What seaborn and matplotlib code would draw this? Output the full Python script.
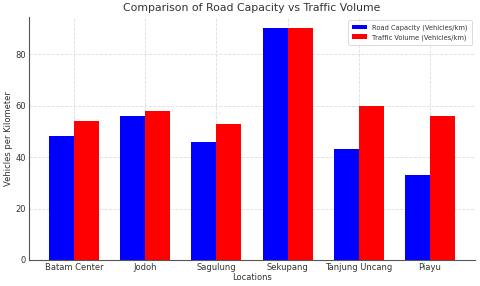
import matplotlib
matplotlib.use("Agg")
import matplotlib.pyplot as plt
import seaborn as sns
import pandas as pd

locations = ["Batam Center", "Jodoh", "Sagulung", "Sekupang", "Tanjung Uncang", "Piayu"]
road_capacity = [48, 56, 46, 90, 43, 33]
traffic_volume = [54, 58, 53, 90, 60, 56]
series_names = ["Road Capacity (Vehicles/km)", "Traffic Volume (Vehicles/km)"]

df = pd.DataFrame({
    "Location": locations * 2,
    "Value": road_capacity + traffic_volume,
    "Series": [series_names[0]] * len(locations) + [series_names[1]] * len(locations),
})

sns.set_style("whitegrid", {"grid.linestyle": "--", "grid.color": "#dddddd",
                            "axes.edgecolor": "#555555"})
plt.rcParams['font.family'] = ['DejaVu Sans']

fig = plt.figure(figsize=(4.8, 2.86), dpi=100)
ax = fig.add_axes([0.06, 0.091, 0.93, 0.85])
sns.barplot(data=df, x="Location", y="Value", hue="Series",
            palette=["#0000ff", "#ff0000"], width=0.7, ax=ax,
            saturation=1, edgecolor="none")
ax.set_xlim(-0.635, 5.635)
ax.set_ylim(0, 94.5)
ax.set_yticks([0, 20, 40, 60, 80])
ax.grid(True, axis="both", linestyle="--", color="#dddddd", linewidth=0.6)
ax.set_axisbelow(True)
ax.set_title("Comparison of Road Capacity vs Traffic Volume", fontsize=7.8, color="#333333", pad=4)
ax.set_xlabel("Locations", fontsize=6, color="#333333", labelpad=1)
ax.set_ylabel("Vehicles per Kilometer", fontsize=6, color="#333333", labelpad=2)
ax.tick_params(axis="both", labelsize=6, colors="#333333", length=0, pad=2)
for s in ["top", "right"]:
    ax.spines[s].set_visible(False)
for s in ["left", "bottom"]:
    ax.spines[s].set_linewidth(0.8)
leg = ax.legend(fontsize=4.8, loc="upper right", frameon=True, handlelength=2.2,
                borderpad=0.6, labelspacing=0.5)
leg.get_frame().set_edgecolor("#cccccc")
leg.get_frame().set_linewidth(0.6)
for t in leg.get_texts():
    t.set_color("#333333")
fig.savefig("out.png", dpi=100)
